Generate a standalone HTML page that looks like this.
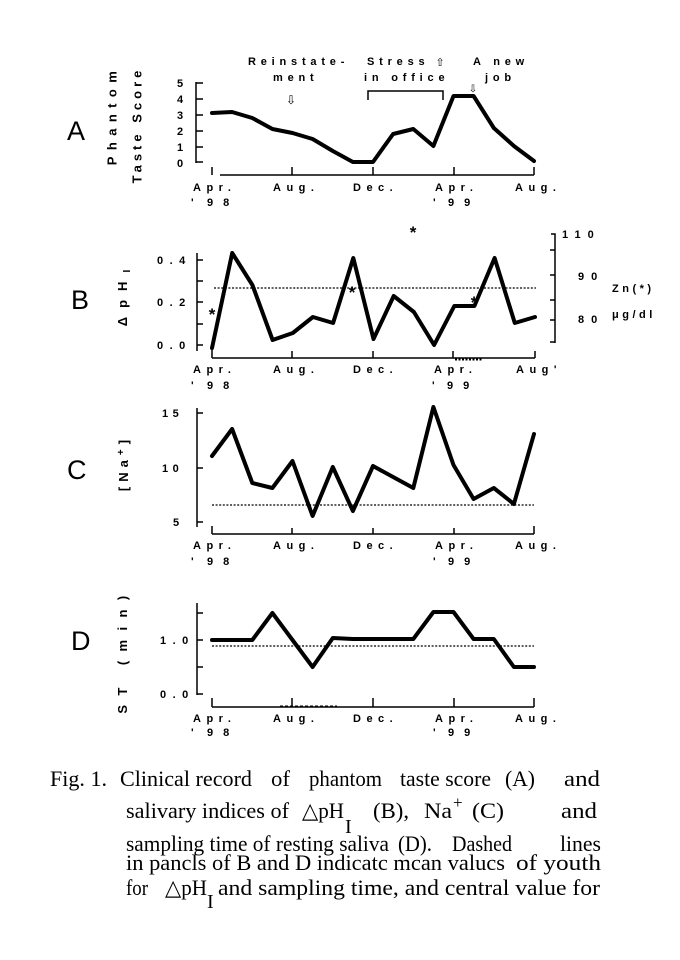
<!DOCTYPE html>
<html>
<head>
<meta charset="utf-8">
<style>
  html, body { margin: 0; padding: 0; background: #fff; }
  svg { display: block; }
  .t { font-family: "Liberation Sans", sans-serif; font-weight: bold; font-size: 11px; fill: #000; letter-spacing: 5.5px; }
  .a { font-family: "Liberation Sans", sans-serif; font-weight: bold; font-size: 11px; fill: #000; letter-spacing: 4.8px; }
  .r { font-family: "Liberation Sans", sans-serif; font-weight: bold; font-size: 13px; fill: #000; }
  .big { font-family: "Liberation Sans", sans-serif; font-size: 27px; fill: #000; }
  .cap { font-family: "Liberation Serif", "DejaVu Serif", serif; font-size: 22px; fill: #000; }
  .ast { font-family: "Liberation Sans", sans-serif; font-weight: bold; font-size: 17px; fill: #000; }
  .ax { stroke: #000; stroke-width: 1.5; fill: none; }
  .dl { stroke: #000; stroke-width: 4; fill: none; stroke-linejoin: round; stroke-linecap: round; }
  .mn { stroke: #000; stroke-width: 1.3; fill: none; stroke-dasharray: 2 1.6; }
</style>
</head>
<body>
<svg width="680" height="960" viewBox="0 0 680 960" xmlns="http://www.w3.org/2000/svg">
<rect width="680" height="960" fill="#fff"/>

<!-- ================= PANEL A ================= -->
<text class="big" x="67" y="140">A</text>
<text class="r" transform="translate(116.5,115) rotate(-90)" text-anchor="middle" style="letter-spacing:6.4px">Phantom</text>
<text class="r" transform="translate(141.5,125) rotate(-90)" text-anchor="middle" style="letter-spacing:4px">Taste Score</text>

<!-- y axis -->
<path class="ax" d="M196,82 V163 M196,83 H203 M196,99 H203 M196,115 H203 M196,131 H203 M196,147 H203 M196,162 H203"/>
<text class="t" x="177" y="87">5</text>
<text class="t" x="177" y="103">4</text>
<text class="t" x="177" y="119">3</text>
<text class="t" x="177" y="135">2</text>
<text class="t" x="177" y="151">1</text>
<text class="t" x="177" y="167">0</text>
<!-- x axis -->
<path class="ax" d="M220,175 H534 M212,167 V175 M292,167 V175 M373,167 V175 M454,167 V175 M534,167 V175"/>
<text class="t" x="193" y="191">Apr.</text>
<text class="t" x="273" y="191">Aug.</text>
<text class="t" x="353" y="191">Dec.</text>
<text class="t" x="435" y="191">Apr.</text>
<text class="t" x="515" y="191">Aug.</text>
<text class="t" x="191" y="206">'</text>
<text class="t" x="207" y="206" style="letter-spacing:10px">98</text>
<text class="t" x="433" y="206">'</text>
<text class="t" x="448" y="206" style="letter-spacing:10px">99</text>

<!-- annotations -->
<text class="a" x="248" y="65">Reinstate-</text>
<text class="a" x="273" y="81">ment</text>
<text x="291" y="104" text-anchor="middle" style="font-family:'DejaVu Sans',sans-serif;font-size:12px;fill:#000">⇩</text>
<text class="a" x="367" y="65">Stress</text>
<text x="440" y="66" text-anchor="middle" style="font-family:'DejaVu Sans',sans-serif;font-size:11px;fill:#000">⇧</text>
<text class="a" x="364" y="81">in office</text>
<text class="a" x="473" y="65">A new</text>
<text class="a" x="485" y="81">job</text>
<text x="473" y="92" text-anchor="middle" style="font-family:'DejaVu Sans',sans-serif;font-size:10px;fill:#000">⇩</text>
<path class="ax" d="M368,100 V91 H443 V100"/>

<polyline class="dl" points="212,113 232.1,112 252.3,118 272.4,129 292.5,133 312.6,139 332.8,151 352.9,162 373,162 393.1,134 413.3,129 433.4,146 453.5,96 473.6,96 493.8,128 513.9,146 534,161"/>

<!-- ================= PANEL B ================= -->
<text class="big" x="71" y="309">B</text>
<text class="r" transform="translate(127,298) rotate(-90)" text-anchor="middle" style="letter-spacing:9px">ΔpH<tspan style="font-size:10px;letter-spacing:0" dy="3">I</tspan></text>

<path class="ax" d="M197,253 V351 M197,260 H203 M197,281 H203 M197,302 H203 M197,324 H203 M197,345 H203"/>
<text class="t" x="157" y="264" style="letter-spacing:6.5px">0.4</text>
<text class="t" x="157" y="306" style="letter-spacing:6.5px">0.2</text>
<text class="t" x="157" y="349" style="letter-spacing:6.5px">0.0</text>

<path class="ax" d="M212,358 H535 M212,350 V358 M292,351 V358 M373,351 V358 M453,351 V358 M535,351 V358"/>
<path d="M455,359.5 H482" stroke="#000" stroke-width="2" stroke-dasharray="2 1.5" fill="none"/>
<text class="t" x="193" y="373">Apr.</text>
<text class="t" x="273" y="373">Aug.</text>
<text class="t" x="353" y="373">Dec.</text>
<text class="t" x="434" y="373">Apr.</text>
<text class="t" x="516" y="373">Aug'</text>
<text class="t" x="191" y="389">'</text>
<text class="t" x="207" y="389" style="letter-spacing:10px">98</text>
<text class="t" x="432" y="389">'</text>
<text class="t" x="447" y="389" style="letter-spacing:10px">99</text>

<!-- right axis -->
<path class="ax" d="M551,234 H555 V343 M550,250 H555 M550,275 H555 M550,300 H555 M550,320 H555 M550,342 H555"/>
<text class="t" x="562" y="238" style="letter-spacing:7px">110</text>
<text class="t" x="578" y="280" style="letter-spacing:7px">90</text>
<text class="t" x="578" y="323" style="letter-spacing:7px">80</text>
<text class="a" x="612" y="292" style="letter-spacing:3.5px">Zn(*)</text>
<text class="a" x="612" y="318" style="letter-spacing:3.5px">μg/dl</text>

<path class="mn" d="M214,288 H536"/>
<polyline class="dl" points="212,348 232.2,253 252.4,285 272.6,340 292.8,333 312.9,317 333.1,323 353.3,258 373.5,339 393.7,296 413.9,312 434.1,345 454.3,306 474.4,306 494.6,258 514.8,323 535,317"/>

<text class="ast" x="212" y="320" text-anchor="middle">*</text>
<text class="ast" x="352" y="298" text-anchor="middle">*</text>
<text class="ast" x="413" y="238" text-anchor="middle">*</text>
<text class="ast" x="474" y="308" text-anchor="middle">*</text>

<!-- ================= PANEL C ================= -->
<text class="big" x="67" y="479">C</text>
<text class="r" transform="translate(128,463) rotate(-90)" text-anchor="middle" style="letter-spacing:5px">[Na<tspan style="font-size:10px" dy="-4">+</tspan><tspan dy="4">]</tspan></text>

<path class="ax" d="M197,408 V527 M197,413 H203 M197,468 H203 M197,522 H203"/>
<text class="t" x="162" y="417" style="letter-spacing:4.5px">15</text>
<text class="t" x="162" y="472" style="letter-spacing:4.5px">10</text>
<text class="t" x="173" y="526">5</text>

<path class="ax" d="M212,534 H534 M212,526 V534 M292,528 V534 M373,528 V534 M454,528 V534 M534,526 V534"/>
<text class="t" x="193" y="549">Apr.</text>
<text class="t" x="273" y="549">Aug.</text>
<text class="t" x="353" y="549">Dec.</text>
<text class="t" x="435" y="549">Apr.</text>
<text class="t" x="515" y="549">Aug.</text>
<text class="t" x="191" y="565">'</text>
<text class="t" x="207" y="565" style="letter-spacing:10px">98</text>
<text class="t" x="433" y="565">'</text>
<text class="t" x="448" y="565" style="letter-spacing:10px">99</text>

<path class="mn" d="M212,505 H534"/>
<polyline class="dl" points="212,456 232.1,429 252.3,483 272.4,488 292.5,461 312.6,516 332.8,467 352.9,511 373,466 393.1,477 413.3,488 433.4,407 453.5,465 473.6,499 493.8,488 513.9,504 534,434"/>

<!-- ================= PANEL D ================= -->
<text class="big" x="71" y="650">D</text>
<text class="r" transform="translate(127,650) rotate(-90)" text-anchor="middle" style="letter-spacing:9.4px">ST (min)</text>

<path class="ax" d="M197,603 V695 M197,613 H203 M197,640 H203 M197,667 H203 M197,694 H203"/>
<text class="t" x="160" y="644" style="letter-spacing:6.5px">1.0</text>
<text class="t" x="160" y="698" style="letter-spacing:6.5px">0.0</text>

<path class="ax" d="M212,707 H534 M212,698 V707 M292,698 V707 M373,698 V707 M454,698 V707 M534,698 V707"/>
<path d="M280,706.5 H337" stroke="#000" stroke-width="2" stroke-dasharray="3 2" fill="none"/>
<text class="t" x="193" y="722">Apr.</text>
<text class="t" x="273" y="722">Aug.</text>
<text class="t" x="353" y="722">Dec.</text>
<text class="t" x="435" y="722">Apr.</text>
<text class="t" x="515" y="722">Aug.</text>
<text class="t" x="191" y="736">'</text>
<text class="t" x="207" y="736" style="letter-spacing:10px">98</text>
<text class="t" x="433" y="736">'</text>
<text class="t" x="448" y="736" style="letter-spacing:10px">99</text>

<path class="mn" d="M212,646 H534"/>
<polyline class="dl" points="212,640 232.1,640 252.3,640 272.4,613 292.5,640 312.6,667 332.8,638 352.9,639 373,639 393.1,639 413.3,639 433.4,612 453.5,612 473.6,639 493.8,639 513.9,667 534,667"/>

<!-- ================= CAPTION ================= -->
<text class="cap" x="50" y="786" textLength="57" lengthAdjust="spacingAndGlyphs">Fig. 1.</text>
<text class="cap" x="120" y="786" textLength="132" lengthAdjust="spacingAndGlyphs">Clinical record</text>
<text class="cap" x="271" y="786" textLength="19" lengthAdjust="spacingAndGlyphs">of</text>
<text class="cap" x="309" y="786" textLength="73" lengthAdjust="spacingAndGlyphs">phantom</text>
<text class="cap" x="400" y="786" textLength="91" lengthAdjust="spacingAndGlyphs">taste score</text>
<text class="cap" x="505" y="786" textLength="30" lengthAdjust="spacingAndGlyphs">(A)</text>
<text class="cap" x="564" y="786" textLength="36" lengthAdjust="spacingAndGlyphs">and</text>

<text class="cap" x="126" y="818" textLength="163" lengthAdjust="spacingAndGlyphs">salivary indices of</text>
<text class="cap" x="302" y="818" textLength="42" lengthAdjust="spacingAndGlyphs">△pH</text>
<text class="cap" x="345" y="833" style="font-size:20px">I</text>
<text class="cap" x="373" y="818" textLength="36" lengthAdjust="spacingAndGlyphs">(B),</text>
<text class="cap" x="424" y="818" textLength="28" lengthAdjust="spacingAndGlyphs">Na</text>
<text class="cap" x="453" y="808" style="font-size:17px">+</text>
<text class="cap" x="472" y="818" textLength="32" lengthAdjust="spacingAndGlyphs">(C)</text>
<text class="cap" x="561" y="818" textLength="36" lengthAdjust="spacingAndGlyphs">and</text>

<text class="cap" x="126" y="851" textLength="263" lengthAdjust="spacingAndGlyphs">sampling time of resting saliva</text>
<text class="cap" x="398" y="851" textLength="34" lengthAdjust="spacingAndGlyphs">(D).</text>
<text class="cap" x="452" y="851" textLength="60" lengthAdjust="spacingAndGlyphs">Dashed</text>
<text class="cap" x="560" y="851" textLength="41" lengthAdjust="spacingAndGlyphs">lines</text>

<text class="cap" x="126" y="870" textLength="379" lengthAdjust="spacingAndGlyphs">in pancls of B and D indicatc mcan valucs</text>
<text class="cap" x="516" y="870" textLength="85" lengthAdjust="spacingAndGlyphs">of youth</text>

<text class="cap" x="126" y="895" textLength="22" lengthAdjust="spacingAndGlyphs">for</text>
<text class="cap" x="165" y="895" textLength="42" lengthAdjust="spacingAndGlyphs">△pH</text>
<text class="cap" x="207" y="908" style="font-size:20px">I</text>
<text class="cap" x="218" y="895" textLength="382" lengthAdjust="spacingAndGlyphs">and sampling time, and central value for</text>
</svg>
</body>
</html>
